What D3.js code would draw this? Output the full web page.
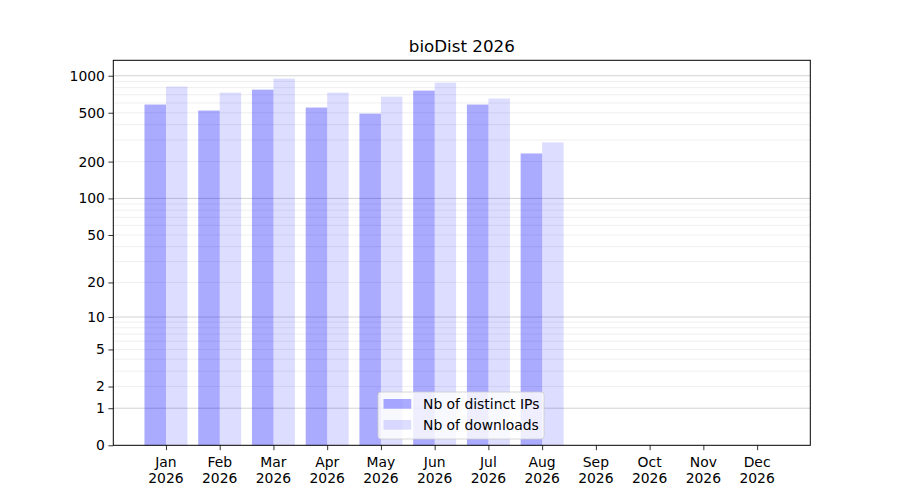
<!DOCTYPE html>
<html>
<head>
<meta charset="utf-8">
<script src="https://cdn.jsdelivr.net/npm/d3@7"></script>
<style>
  body { margin: 0; background: #fff; }
  text { font-family: "DejaVu Sans", sans-serif; }
</style>
</head>
<body>
<div id="chart"></div>
<script>
// chart data
var months = ["Jan", "Feb", "Mar", "Apr", "May", "Jun", "Jul", "Aug", "Sep", "Oct", "Nov", "Dec"];
var year = "2026";
var distinctIPs = [583, 521, 771, 551, 492, 757, 583, 233, 0, 0, 0, 0];
var downloads = [816, 729, 947, 729, 676, 879, 652, 287, 0, 0, 0, 0];
var yTicks = [0, 1, 2, 5, 10, 20, 50, 100, 200, 500, 1000];
var majorGrid = [1, 10, 100, 1000];
var minorGrid = [2, 3, 4, 5, 6, 7, 8, 9, 20, 30, 40, 50, 60, 70, 80, 90, 200, 300, 400, 500, 600, 700, 800, 900];
var seriesNames = ["Nb of distinct IPs", "Nb of downloads"];

var width = 900, height = 500;
var plot = { left: 113.3, right: 810.3, top: 60.3, bottom: 445.3 };

var svg = d3.select("#chart").append("svg")
  .attr("width", width)
  .attr("height", height);

var x = d3.scaleLinear()
  .domain([-0.98, 11.99])
  .range([plot.left, plot.right]);

// log(x+1) style axis
var yMax = Math.pow(10, Math.log10(d3.max(downloads) + 1) * 1.05) - 1;
var y = d3.scaleSymlog().constant(1)
  .domain([0, yMax])
  .range([plot.bottom, plot.top]);

// grid lines
svg.append("g").selectAll("line")
  .data(minorGrid)
  .enter().append("line")
  .attr("x1", plot.left).attr("x2", plot.right)
  .attr("y1", d => y(d)).attr("y2", d => y(d))
  .attr("stroke", "#ebebeb").attr("stroke-width", 0.8);

svg.append("g").selectAll("line")
  .data(majorGrid)
  .enter().append("line")
  .attr("x1", plot.left).attr("x2", plot.right)
  .attr("y1", d => y(d)).attr("y2", d => y(d))
  .attr("stroke", "#c8c8c8").attr("stroke-width", 0.8);

var barW = 0.4;

// bars
svg.append("g").selectAll("rect")
  .data(distinctIPs)
  .enter().append("rect")
  .attr("x", (d, i) => x(i - barW))
  .attr("width", (d, i) => x(i) - x(i - barW))
  .attr("y", d => y(d))
  .attr("height", d => y(0) - y(d))
  .attr("fill", "blue").attr("fill-opacity", 0.333);

svg.append("g").selectAll("rect")
  .data(downloads)
  .enter().append("rect")
  .attr("x", (d, i) => x(i))
  .attr("width", (d, i) => x(i + barW) - x(i))
  .attr("y", d => y(d))
  .attr("height", d => y(0) - y(d))
  .attr("fill", "blue").attr("fill-opacity", 0.133);

// axes
var yAxis = d3.axisLeft(y)
  .tickValues(yTicks)
  .tickFormat(d3.format("d"))
  .tickSize(4.9).tickPadding(3.5);

var yg = svg.append("g")
  .attr("transform", "translate(" + plot.left + ",0)")
  .call(yAxis);

var xAxis = d3.axisBottom(x)
  .tickValues(d3.range(months.length))
  .tickFormat("")
  .tickSize(4.9);

var xg = svg.append("g")
  .attr("transform", "translate(0," + plot.bottom + ")")
  .call(xAxis);

[yg, xg].forEach(function (g) {
  g.select(".domain").remove();
  g.selectAll(".tick line").attr("stroke", "#000").attr("stroke-width", 0.8);
  g.selectAll("text").attr("font-family", "DejaVu Sans").attr("font-size", 13.9).attr("fill", "#000");
});

// two-line month labels
var lbl = svg.append("g").selectAll("text")
  .data(months)
  .enter().append("text")
  .attr("x", (d, i) => x(i))
  .attr("y", plot.bottom + 21.5)
  .attr("text-anchor", "middle")
  .attr("font-size", 13.9)
  .attr("fill", "#000");
lbl.append("tspan").attr("x", (d, i) => x(i)).text(d => d);
lbl.append("tspan").attr("x", (d, i) => x(i)).attr("dy", 16).text(year);

// frame
svg.append("rect")
  .attr("x", plot.left).attr("y", plot.top)
  .attr("width", plot.right - plot.left)
  .attr("height", plot.bottom - plot.top)
  .attr("fill", "none").attr("stroke", "#000").attr("stroke-width", 1);

// title
svg.append("text")
  .attr("x", (plot.left + plot.right) / 2)
  .attr("y", plot.top - 8)
  .attr("text-anchor", "middle")
  .attr("font-size", 16.7)
  .attr("fill", "#000")
  .text("bioDist " + year);

// legend
var leg = svg.append("g").attr("transform", "translate(378,392)");
leg.append("rect")
  .attr("width", 166).attr("height", 47)
  .attr("rx", 3)
  .attr("fill", "#fff").attr("fill-opacity", 0.8)
  .attr("stroke", "#cccccc").attr("stroke-width", 0.8);

var legOp = [0.333, 0.133];
seriesNames.forEach(function (name, i) {
  leg.append("rect")
    .attr("x", 5.5).attr("y", 7 + i * 21)
    .attr("width", 27.8).attr("height", 9.7)
    .attr("fill", "blue").attr("fill-opacity", legOp[i]);
  leg.append("text")
    .attr("x", 45).attr("y", 16.5 + i * 21)
    .attr("font-size", 13.9)
    .attr("fill", "#000")
    .text(name);
});
</script>
</body>
</html>
